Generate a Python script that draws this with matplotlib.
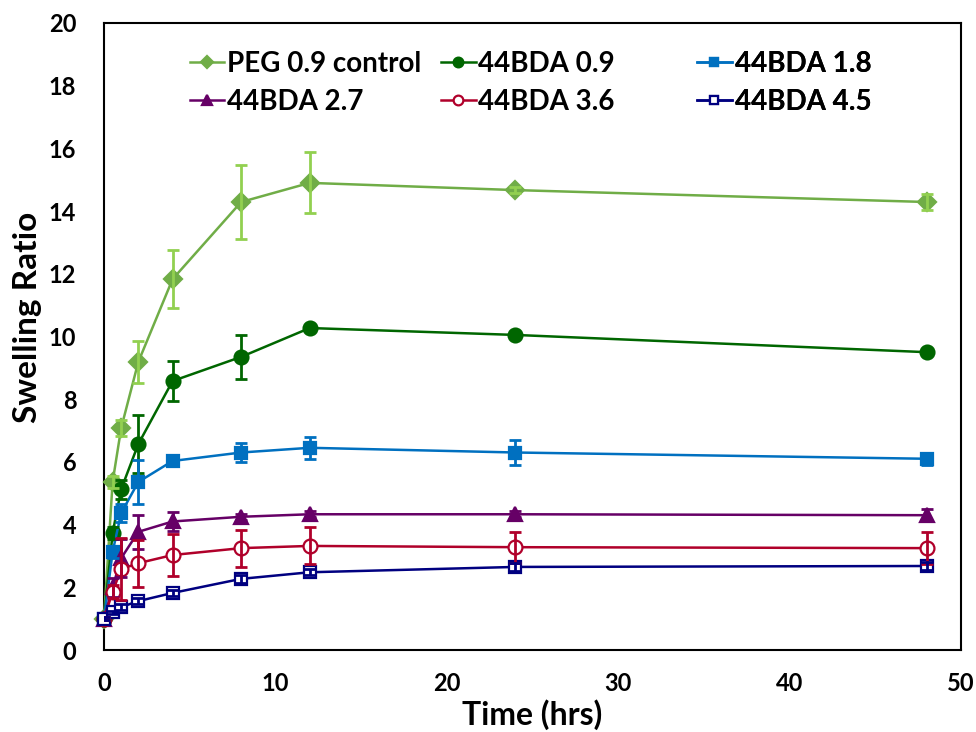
import matplotlib
matplotlib.use('Agg')
import matplotlib.pyplot as plt

plt.rcParams['font.family'] = ['Lato', 'DejaVu Sans']
plt.rcParams['font.weight'] = 'bold'

# sampling times (hrs)
time = [0, 0.5, 1, 2, 4, 8, 12, 24, 48]

peg_control = [1.0, 5.36, 7.08, 9.19, 11.83, 14.29, 14.90, 14.67, 14.29]
peg_control_err = [0.05, 0.2, 0.25, 0.67, 0.93, 1.18, 0.97, 0.1, 0.25]

bda_09 = [1.0, 3.73, 5.13, 6.57, 8.58, 9.35, 10.27, 10.05, 9.50]
bda_09_err = [0.05, 0.2, 0.3, 0.93, 0.64, 0.69, 0.1, 0.1, 0.1]

bda_18 = [1.0, 3.13, 4.37, 5.36, 6.03, 6.30, 6.45, 6.30, 6.10]
bda_18_err = [0.05, 0.2, 0.3, 0.7, 0.1, 0.3, 0.35, 0.4, 0.2]

bda_27 = [1.0, 2.0, 2.93, 3.77, 4.10, 4.25, 4.33, 4.33, 4.30]
bda_27_err = [0.05, 0.3, 0.6, 0.55, 0.3, 0.1, 0.1, 0.1, 0.2]

bda_36 = [1.0, 1.86, 2.58, 2.77, 3.03, 3.25, 3.32, 3.28, 3.25]
bda_36_err = [0.05, 0.2, 1.0, 0.75, 0.68, 0.59, 0.59, 0.5, 0.5]

bda_45 = [1.0, 1.20, 1.37, 1.56, 1.82, 2.27, 2.48, 2.65, 2.68]
bda_45_err = [0.05, 0.05, 0.1, 0.1, 0.1, 0.12, 0.1, 0.12, 0.12]

series = [
    ('PEG 0.9 control', peg_control, peg_control_err, '#70AD47', '#92D050', 'D', '#70AD47', 9),
    ('44BDA 0.9', bda_09, bda_09_err, '#006600', '#006600', 'o', '#006600', 10),
    ('44BDA 1.8', bda_18, bda_18_err, '#0070C0', '#0070C0', 's', '#0070C0', 9),
    ('44BDA 2.7', bda_27, bda_27_err, '#660066', '#660066', '^', '#660066', 10),
    ('44BDA 3.6', bda_36, bda_36_err, '#B0002A', '#B0002A', 'o', 'white', 10),
    ('44BDA 4.5', bda_45, bda_45_err, '#000080', '#000080', 's', 'white', 9),
]

fig = plt.figure(figsize=(9.76, 7.32), dpi=100)
ax = fig.add_axes([0.1066, 0.112, 0.878, 0.8566])

handles = []
for label, y, err, color, ecolor, marker, face, ms in series:
    line, = ax.plot(time, y, color=color, linewidth=1.8, marker=marker,
                    markersize=ms, markerfacecolor=face, markeredgecolor=color,
                    markeredgewidth=1.6, label=label, zorder=3, clip_on=False)
    handles.append(line)
    # error bars sit on top of the markers
    ax.errorbar(time, y, yerr=err, fmt='none', ecolor=ecolor, elinewidth=2,
                capsize=4, capthick=2, zorder=4)

ax.set_xlim(0, 50)
ax.set_ylim(0, 20)
ax.set_xticks(range(0, 51, 10))
ax.set_yticks(range(0, 21, 2))
ax.tick_params(length=0, labelsize=17)
ax.tick_params(axis='x', pad=16)
ax.tick_params(axis='y', pad=20)
for lbl in ax.get_xticklabels() + ax.get_yticklabels():
    lbl.set_fontweight('bold')
for sp in ax.spines.values():
    sp.set_linewidth(1.5)
    sp.set_color('black')

ax.set_xlabel('Time (hrs)', fontsize=23, fontweight='bold')
ax.set_ylabel('Swelling Ratio', fontsize=24, fontweight='bold')
ax.xaxis.set_label_coords(0.5, -0.078)
ax.yaxis.set_label_coords(-0.072, 0.53)

# three legend columns, two entries each
cols = [(0.100, [handles[0], handles[3]]),
        (0.393, [handles[1], handles[4]]),
        (0.692, [handles[2], handles[5]])]
for x, hs in cols:
    leg = ax.legend(handles=hs, loc='upper left', bbox_to_anchor=(x, 0.955),
                    frameon=False, borderpad=0, borderaxespad=0,
                    handlelength=1.25, handletextpad=0.1, labelspacing=0.42,
                    markerscale=0.7, prop={'size': 20, 'weight': 'bold'})
    ax.add_artist(leg)

fig.savefig('out.png', dpi=100)
